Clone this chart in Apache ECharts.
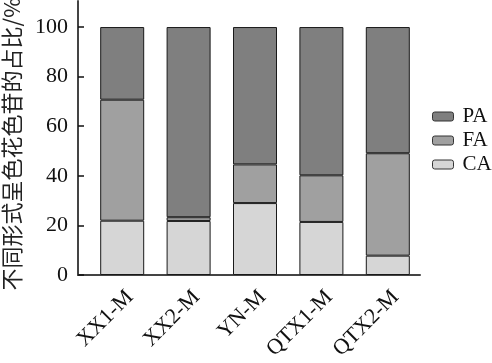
<!DOCTYPE html>
<html><head><meta charset="utf-8">
<script src="https://cdn.jsdelivr.net/npm/echarts@6/dist/echarts.min.js"></script>
<style>html,body{margin:0;padding:0;background:#fff}#c{width:492px;height:363px}</style>
</head><body><div id="c"></div>
<script>
const categories = ['XX1-M','XX2-M','YN-M','QTX1-M','QTX2-M'];
const caValues = [21.9, 21.8, 29.0, 21.4, 7.8];
const faValues = [48.8, 1.5, 15.6, 18.8, 41.3];
const paValues = [29.3, 76.7, 55.4, 59.8, 50.9];
const yTickValues = [0, 20, 40, 60, 80, 100];
const yTitle = '不同形式呈色花色苷的占比/%';

const serif = '"Liberation Serif", "Times New Roman", serif';
const chart = echarts.init(document.getElementById('c'));
const border = {borderColor:'#1a1a1a', borderWidth:1};
chart.setOption({
  animation:false,
  grid:[
    {left:78, right:72, top:1, bottom:88, outerBoundsMode:'none', containLabel:false},
    {left:89, right:71, top:1, bottom:88, outerBoundsMode:'none', containLabel:false}
  ],
  legend:{
    orient:'vertical', left:427, top:101, itemWidth:21, itemHeight:9, itemGap:3,
    data:['PA','FA','CA'],
    itemStyle:{borderColor:'#333', borderWidth:1},
    textStyle:{fontFamily:serif, fontSize:21, color:'#111', lineHeight:20, padding:[0,0,0,4]}
  },
  xAxis:[
    {type:'value', gridIndex:0, min:0, max:1, axisLine:{show:true, lineStyle:{color:'#444', width:2}},
     axisTick:{show:false}, axisLabel:{show:false}, splitLine:{show:false}},
    {type:'category', gridIndex:1, data:categories,
     axisLine:{show:false},
     axisTick:{show:true, inside:true, alignWithLabel:true, length:7, lineStyle:{color:'#111', width:2}},
     axisLabel:{rotate:45, margin:11, verticalAlign:'top', fontFamily:serif, fontSize:22, color:'#111'}}
  ],
  yAxis:[
    {type:'value', gridIndex:0, min:0, max:110.5,
     name:yTitle, nameLocation:'middle', nameGap:55,
     nameTextStyle:{fontFamily:'"Noto Sans CJK SC", sans-serif', fontSize:22, color:'#222', padding:[0,12,0,0]},
     axisLine:{show:true, lineStyle:{color:'#444', width:2}},
     axisTick:{show:true, inside:true, length:6, customValues:yTickValues, lineStyle:{color:'#111', width:1.5}},
     axisLabel:{customValues:yTickValues, margin:10, fontFamily:serif, fontSize:22, color:'#111'},
     splitLine:{show:false}},
    {type:'value', gridIndex:1, min:0, max:110.5, show:false, splitLine:{show:false}}
  ],
  series:[
    {name:'CA', type:'bar', stack:'s', xAxisIndex:1, yAxisIndex:1, data:caValues, barWidth:44,
     itemStyle:Object.assign({color:'#d6d6d6'}, border)},
    {name:'FA', type:'bar', stack:'s', xAxisIndex:1, yAxisIndex:1, data:faValues, barWidth:44,
     itemStyle:Object.assign({color:'#a0a0a0'}, border)},
    {name:'PA', type:'bar', stack:'s', xAxisIndex:1, yAxisIndex:1, data:paValues, barWidth:44,
     itemStyle:Object.assign({color:'#7f7f7f'}, border)}
  ]
});
</script></body></html>
